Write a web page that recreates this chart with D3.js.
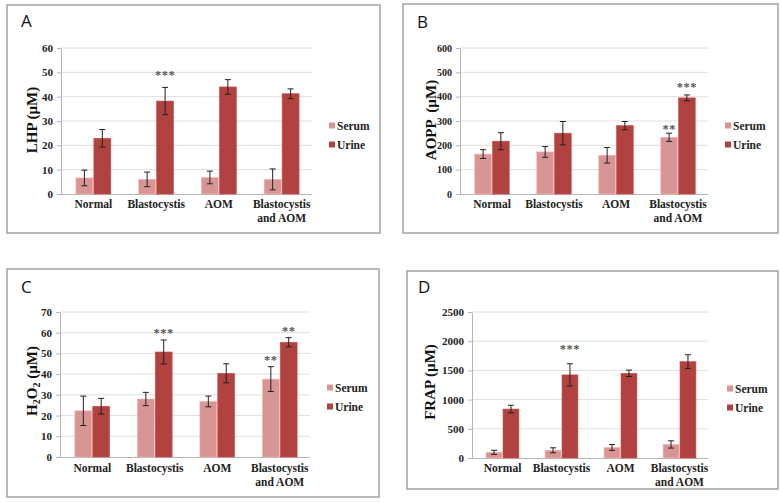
<!DOCTYPE html>
<html><head><meta charset="utf-8">
<script src="https://cdn.jsdelivr.net/npm/d3@7"></script>
<style>body{margin:0;background:#fff}svg{display:block}</style>
</head><body>
<svg id="c" width="781" height="502"></svg>
<script>
const categories = ["Normal","Blastocystis","AOM","Blastocystis and AOM"];
const seriesNames = ["Serum","Urine"];

const serumA = [6.6, 6.0, 6.8, 6.0],      serumErrA = [3.2, 3.0, 2.6, 4.3];
const urineA = [22.9, 38.2, 44.0, 41.2],  urineErrA = [3.6, 5.6, 3.0, 2.0];
const serumB = [164, 173, 159, 233],      serumErrB = [18, 22, 32, 17];
const urineB = [217, 250, 281, 395],      urineErrB = [35, 48, 17, 12];
const serumC = [22.3, 28.0, 26.8, 37.6],  serumErrC = [7.1, 3.2, 2.6, 6.0];
const urineC = [24.5, 50.7, 40.4, 55.4],  urineErrC = [3.8, 5.8, 4.6, 2.2];
const serumD = [97, 132, 180, 232],       serumErrD = [35, 42, 50, 62];
const urineD = [838, 1423, 1450, 1650],   urineErrD = [65, 190, 55, 118];

const ticksA = [0,10,20,30,40,50,60];
const ticksB = [0,100,200,300,400,500,600];
const ticksC = [0,10,20,30,40,50,60,70];
const ticksD = [0,500,1000,1500,2000,2500];

// significance marks: [category index, series index, mark, level (data units)]
const sigA = [[1,1,"***",49.6]];
const sigB = [[3,0,"**",274],[3,1,"***",447]];
const sigC = [[1,1,"***",60.7],[3,0,"**",48],[3,1,"**",61.7]];
const sigD = [[1,1,"***",1899]];

const colors = ["#d79593","#b0423f"];
const svg = d3.select("#c");
const serif = "'Liberation Serif','Times New Roman',serif";

const panels = [
  {letter:"A", box:[7,5,380,233], x0:61, x1:312, yTop:48, yBot:194, max:60, ticks:ticksA, tickSize:11,
   serum:serumA, se:serumErrA, urine:urineA, ue:urineErrA, sig:sigA, title:[{t:"LHP (µM)"}], tx:37, ty:120,
   lx:21, ly:27, legX:329, legY:126, catY:208},
  {letter:"B", box:[403,4,778,233], x0:460, x1:708, yTop:48, yBot:194, max:600, ticks:ticksB, tickSize:10,
   serum:serumB, se:serumErrB, urine:urineB, ue:urineErrB, sig:sigB, title:[{t:"AOPP  (µM)"}], tx:436, ty:120,
   lx:417, ly:28, legX:725, legY:126, catY:208},
  {letter:"C", box:[7,269,379,497], x0:60, x1:310, yTop:312, yBot:457, max:70, ticks:ticksC, tickSize:11,
   serum:serumC, se:serumErrC, urine:urineC, ue:urineErrC, sig:sigC,
   title:[{t:"H"},{t:"2",sub:true},{t:"O"},{t:"2",sub:true},{t:" (µM)"}], tx:37, ty:381,
   lx:21, ly:293, legX:327, legY:388, catY:472},
  {letter:"D", box:[407,271,778,489], x0:472, x1:708, yTop:312, yBot:458, max:2500, ticks:ticksD, tickSize:11,
   serum:serumD, se:serumErrD, urine:urineD, ue:urineErrD, sig:sigD, title:[{t:"FRAP (µM)"}], tx:435, ty:382,
   lx:418, ly:293, legX:727, legY:389, catY:472}
];

panels.forEach(p => {
  const g = svg.append("g");
  g.append("rect").attr("x",p.box[0]).attr("y",p.box[1])
    .attr("width",p.box[2]-p.box[0]).attr("height",p.box[3]-p.box[1])
    .attr("fill","#fff").attr("stroke","#a3a3a3").attr("stroke-width",1.5);
  g.append("text").attr("x",p.lx).attr("y",p.ly).text(p.letter)
    .attr("font-family","'Open Sans','Liberation Sans',sans-serif").attr("font-size",17).attr("fill","#111");

  const y = d3.scaleLinear().domain([0,p.max]).range([p.yBot,p.yTop]);
  const x = d3.scaleBand().domain(categories).range([p.x0,p.x1]).padding(0);
  const bw = x.step()*0.27;

  // gridlines
  g.append("g").selectAll("line").data(p.ticks.filter(t=>t>0)).join("line")
    .attr("x1",p.x0).attr("x2",p.x1).attr("y1",d=>y(d)).attr("y2",d=>y(d))
    .attr("stroke","#dedede").attr("stroke-width",1);

  // y axis
  const ya = g.append("g").attr("transform",`translate(${p.x0},0)`)
    .call(d3.axisLeft(y).tickValues(p.ticks).tickFormat(d3.format("d"))
      .tickSize(4).tickPadding(4).tickSizeOuter(0));
  ya.select(".domain").attr("stroke","#b5b5b5");
  ya.selectAll(".tick line").attr("stroke","#b5b5b5");
  ya.selectAll(".tick text").attr("font-family",serif).attr("font-weight","bold")
    .attr("font-size",p.tickSize).attr("fill","#222");

  // x axis line
  g.append("line").attr("x1",p.x0).attr("x2",p.x1).attr("y1",p.yBot+0.5).attr("y2",p.yBot+0.5)
    .attr("stroke","#b5b5b5");

  // bars
  const series = [{v:p.serum,e:p.se},{v:p.urine,e:p.ue}];
  series.forEach((s,si) => {
    const bx = c => x(c) + x.step()/2 + (si===0 ? -bw-0.5 : 0.5) + 1;
    g.append("g").selectAll("rect").data(categories).join("rect")
      .attr("x",c=>bx(c)).attr("width",bw)
      .attr("y",(c,i)=>y(s.v[i])).attr("height",(c,i)=>y(0)-y(s.v[i]))
      .attr("fill",colors[si]).attr("stroke",d3.color(colors[si]).brighter(0.5)).attr("stroke-width",0.6);
    const eg = g.append("g").selectAll("g").data(categories).join("g");
    eg.append("line").attr("x1",c=>bx(c)+bw/2).attr("x2",c=>bx(c)+bw/2)
      .attr("y1",(c,i)=>y(s.v[i]+s.e[i])).attr("y2",(c,i)=>y(s.v[i]-s.e[i]))
      .attr("stroke","#222").attr("stroke-width",1);
    [1,-1].forEach(sg => {
      eg.append("line").attr("x1",c=>bx(c)+bw/2-3).attr("x2",c=>bx(c)+bw/2+3)
        .attr("y1",(c,i)=>y(s.v[i]+sg*s.e[i])).attr("y2",(c,i)=>y(s.v[i]+sg*s.e[i]))
        .attr("stroke","#222").attr("stroke-width",1);
    });
  });

  // significance
  g.append("g").selectAll("text").data(p.sig).join("text")
    .attr("x",d=>x(categories[d[0]]) + x.step()/2 + (d[1]===0 ? -bw/2-0.5 : bw/2+0.5) + 1)
    .attr("y",d=>y(d[3])+6)
    .attr("text-anchor","middle").attr("font-family",serif).attr("font-weight","bold")
    .attr("font-size",12.5).attr("fill","#555").attr("letter-spacing",0.5).text(d=>d[2]);

  // category labels
  const cl = g.append("g").selectAll("text").data(categories).join("text")
    .attr("x",c=>x(c)+x.step()/2+1).attr("y",p.catY)
    .attr("text-anchor","middle").attr("font-family",serif).attr("font-weight","bold")
    .attr("font-size",11.5).attr("fill","#222");
  cl.each(function(c){
    const parts = c === "Blastocystis and AOM" ? ["Blastocystis","and AOM"] : [c];
    d3.select(this).selectAll("tspan").data(parts).join("tspan")
      .attr("x",x(c)+x.step()/2+1).attr("dy",(d,i)=>i===0?0:13.5).text(d=>d);
  });

  // y title
  const tt = g.append("text").attr("transform",`translate(${p.tx},${p.ty}) rotate(-90)`)
    .attr("text-anchor","middle").attr("font-family",serif).attr("font-weight","bold")
    .attr("font-size",15).attr("fill","#111").style("white-space","pre");
  p.title.forEach(s => {
    const ts = tt.append("tspan").text(s.t);
    if (s.sub) ts.attr("font-size",10).attr("baseline-shift","-25%");
  });

  // legend
  seriesNames.forEach((n,i) => {
    g.append("rect").attr("x",p.legX).attr("y",p.legY+i*19-3.5).attr("width",6).attr("height",6)
      .attr("fill",colors[i]);
    g.append("text").attr("x",p.legX+8).attr("y",p.legY+i*19+4).text(n)
      .attr("font-family",serif).attr("font-weight","bold").attr("font-size",11.5).attr("fill","#222");
  });
});
</script>
</body></html>
